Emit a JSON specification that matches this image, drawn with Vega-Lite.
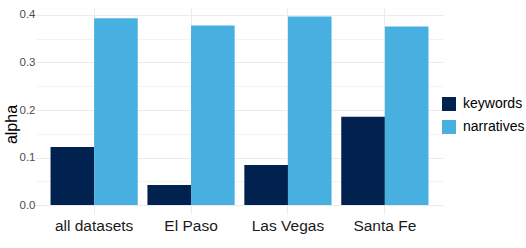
{
  "$schema": "https://vega.github.io/schema/vega-lite/v6.json",
  "autosize": {"type": "none"},
  "width": 407,
  "height": 207,
  "padding": {"left": 36, "top": 7, "right": 83, "bottom": 34},
  "background": "white",
  "config": {
    "view": {"stroke": null},
    "font": "Liberation Sans"
  },
  "data": {
    "values": [
      {"dataset": "all datasets", "type": "keywords", "alpha": 0.122},
      {"dataset": "all datasets", "type": "narratives", "alpha": 0.393},
      {"dataset": "El Paso", "type": "keywords", "alpha": 0.042},
      {"dataset": "El Paso", "type": "narratives", "alpha": 0.378},
      {"dataset": "Las Vegas", "type": "keywords", "alpha": 0.084},
      {"dataset": "Las Vegas", "type": "narratives", "alpha": 0.397},
      {"dataset": "Santa Fe", "type": "keywords", "alpha": 0.186},
      {"dataset": "Santa Fe", "type": "narratives", "alpha": 0.376}
    ]
  },
  "mark": {"type": "bar"},
  "encoding": {
    "x": {
      "field": "dataset",
      "type": "nominal",
      "sort": ["all datasets", "El Paso", "Las Vegas", "Santa Fe"],
      "scale": {"paddingInner": 0.1, "paddingOuter": 0.15},
      "axis": {
        "title": null,
        "labelAngle": 0,
        "labelFontSize": 15.5,
        "labelColor": "#1a1a1a",
        "labelPadding": 4,
        "domain": false,
        "ticks": false,
        "grid": true,
        "gridColor": "#EBEBEB",
        "gridWidth": 1,
        "bandPosition": 0.5
      }
    },
    "xOffset": {
      "field": "type",
      "type": "nominal",
      "sort": ["keywords", "narratives"],
      "scale": {"paddingInner": 0, "paddingOuter": 0}
    },
    "y": {
      "field": "alpha",
      "type": "quantitative",
      "scale": {"domain": [-0.0189, 0.4168], "nice": false, "zero": false},
      "axis": {
        "title": "alpha",
        "titleFontSize": 16,
        "titleFontWeight": "normal",
        "titleColor": "#000000",
        "titleAngle": 270,
        "titleAlign": "center",
        "titleBaseline": "middle",
        "titleX": -25,
        "titleY": 117,
        "values": [0, 0.05, 0.1, 0.15, 0.2, 0.25, 0.3, 0.35, 0.4],
        "labelExpr": "(round(datum.value * 100) % 10 == 0) ? format(datum.value, '.1f') : ''",
        "labelFontSize": 11.5,
        "labelColor": "#4D4D4D",
        "labelPadding": 1,
        "domain": false,
        "ticks": false,
        "grid": true,
        "gridColor": "#EBEBEB",
        "gridWidth": {"condition": {"test": "round(datum.value * 100) % 10 == 0", "value": 1}, "value": 0.6}
      }
    },
    "color": {
      "field": "type",
      "type": "nominal",
      "scale": {"domain": ["keywords", "narratives"], "range": ["#01214F", "#48B0E0"]},
      "legend": {
        "title": null,
        "orient": "none",
        "legendX": 406,
        "legendY": 90,
        "symbolType": "square",
        "symbolSize": 196,
        "symbolStrokeWidth": 0,
        "symbolOpacity": 1,
        "labelFontSize": 14,
        "labelColor": "#000000",
        "labelOffset": 7,
        "rowPadding": 9
      }
    }
  }
}
